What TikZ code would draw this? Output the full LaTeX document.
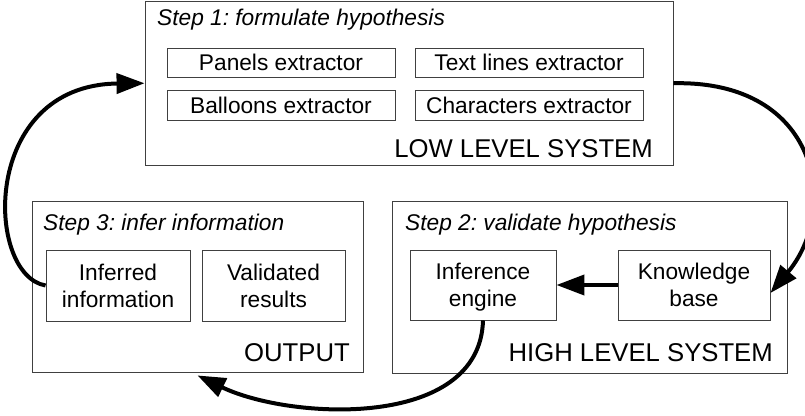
\documentclass[tikz,border=0pt]{standalone}
\usepackage{fontspec}
\setmainfont{Liberation Sans}
\usetikzlibrary{arrows.meta}
\frenchspacing
\newcommand{\topstrut}{\rule{0pt}{25pt}}
\tikzset{
  outerbox/.style={draw=black!75, line width=0.9pt, inner sep=0pt},
  innerbox/.style={draw=black!75, line width=0.9pt, inner sep=0pt, align=center,
    font=\fontsize{22.7}{27}\selectfont},
  titletext/.style={inner sep=0pt, anchor=base west, font=\fontsize{22.7}{27}\selectfont\itshape},
  bigtext/.style={inner sep=0pt, anchor=base east, font=\fontsize{25.7}{30}\selectfont},
  flow/.style={line width=4pt, -{Triangle[length=28pt,width=20pt]}}
}
\begin{document}
\begin{tikzpicture}[x=1pt,y=-1pt]
\useasboundingbox (0,0) rectangle (805,415);
% outer boxes
\node[outerbox, minimum width=528pt, minimum height=163.5pt] (top) at (409,83.25) {};
\node[outerbox, minimum width=331pt, minimum height=171pt] (out) at (197.5,286.5) {};
\node[outerbox, minimum width=395pt, minimum height=172pt] (high) at (589.5,287) {};
% titles
\node[titletext] (t1) at (157,25) {Step 1: formulate hypothesis};
\node[titletext] (t3) at (43,230) {Step 3: infer information};
\node[titletext] (t2) at (405,230) {Step 2: validate hypothesis};
\node[bigtext] (l1) at (653,157) {LOW LEVEL SYSTEM};
\node[bigtext] (l3) at (350,361) {OUTPUT};
\node[bigtext] (l2) at (773,361) {HIGH LEVEL SYSTEM};
% inner boxes
\node[innerbox, minimum width=228pt, minimum height=29pt] (panels) at (281,62.5) {Panels extractor};
\node[innerbox, minimum width=228pt, minimum height=29pt] (textl) at (529,62.5) {Text lines extractor};
\node[innerbox, minimum width=228pt, minimum height=30pt] (ball) at (281,105) {Balloons extractor};
\node[innerbox, minimum width=228pt, minimum height=30pt] (chars) at (529,105) {Characters extractor};
\node[innerbox, minimum width=144pt, minimum height=71pt] (inf) at (118,285.5) {\topstrut Inferred\\information\strut};
\node[innerbox, minimum width=143pt, minimum height=71pt] (val) at (273.5,285.5) {\topstrut Validated\\results\strut};
\node[innerbox, minimum width=146pt, minimum height=70pt] (ie) at (483,285) {\topstrut Inference\\engine\strut};
\node[innerbox, minimum width=152pt, minimum height=70pt] (kb) at (694,285) {\topstrut Knowledge\\base\strut};
% connectors
\coordinate (kbin) at ([yshift=-8pt]kb.east);
\coordinate (outin) at ([yshift=-3pt]out.south);
\draw[flow] (kb.west) -- (ie.east);
\draw[flow] (inf.west) .. controls (-15,275) and (-20,85) .. (top.west);
\draw[flow] (top.east) .. controls (820,80) and (840,210) .. (kbin);
\draw[flow] (ie.south) .. controls (480,430) and (290,420) .. (outin);
\end{tikzpicture}
\end{document}
